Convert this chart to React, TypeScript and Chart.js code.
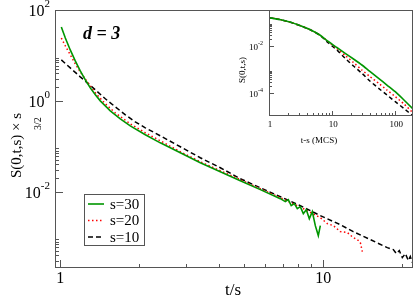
import React, { useEffect, useRef } from "react";
import { Chart, registerables } from "chart.js";
Chart.register(...registerables);

// ---------- main plot data: S(0,t,s) * s^(3/2) versus t/s ----------
const ts30 = [1.009, 1.045, 1.091, 1.14, 1.191, 1.245, 1.3, 1.359, 1.419, 1.549, 1.691, 1.845, 2.105, 2.4, 2.86, 3.406, 4.059, 4.835, 5.762, 6.864, 7.17, 7.36, 7.55, 7.76, 7.963, 8.177, 8.395, 8.618, 8.847, 9.083, 9.325, 9.572, 9.741];
const val30 = [42.3, 24.2, 13.2, 7.57, 4.56, 2.89, 1.93, 1.36, 1.0, 0.603, 0.402, 0.282, 0.179, 0.119, 0.0719, 0.0434, 0.0275, 0.0175, 0.0111, 0.00702, 0.00603, 0.00667, 0.00492, 0.00545, 0.00423, 0.00468, 0.00328, 0.00402, 0.00255, 0.00363, 0.00179, 0.00108, 0.00179];

const ts20 = [1.009, 1.045, 1.091, 1.14, 1.191, 1.267, 1.359, 1.483, 1.618, 1.845, 2.105, 2.4, 2.86, 3.406, 4.059, 4.835, 5.762, 6.864, 8.177, 9.741, 10.36, 10.92, 11.6, 12.34, 13.0, 13.47, 13.83, 14.07];
const val20 = [24.2, 16.2, 10.3, 6.5, 4.34, 2.62, 1.5, 0.859, 0.545, 0.312, 0.198, 0.132, 0.0757, 0.0456, 0.029, 0.0184, 0.0116, 0.00738, 0.00458, 0.00268, 0.00198, 0.00179, 0.00132, 0.00126, 0.000975, 0.000881, 0.000757, 0.00048];

const ts10 = [1.009, 1.091, 1.191, 1.267, 1.359, 1.483, 1.618, 1.768, 1.927, 2.105, 2.4, 2.86, 3.406, 4.059, 4.835, 5.762, 6.864, 8.177, 9.741, 11.6, 13.0, 15.09, 17.51, 18.46, 18.95, 19.45, 19.97, 20.51, 21.05, 21.42, 21.8];
const val10 = [7.96, 5.31, 3.37, 2.49, 1.75, 1.11, 0.738, 0.492, 0.345, 0.255, 0.17, 0.0975, 0.0559, 0.0337, 0.0193, 0.0122, 0.00776, 0.00492, 0.00297, 0.00188, 0.00132, 0.000881, 0.000588, 0.000531, 0.000434, 0.000505, 0.000354, 0.000434, 0.000305, 0.000373, 0.000275];

// ---------- inset data: S(0,t,s) versus t-s (MCS) ----------
const it30 = [1, 1.478, 2.131, 3.071, 4.426, 6.377, 8.77, 11.87, 16.1, 21.78, 29.6, 39.6, 54.5, 73.8, 100, 137.4, 191];
const iv30 = [0.165, 0.138, 0.108, 0.0767, 0.0519, 0.0303, 0.0157, 0.00889, 0.00503, 0.00288, 0.0016, 8.47e-4, 4.35e-4, 2.25e-4, 1.17e-4, 5.19e-5, 2.15e-5];
const it20 = [1, 1.478, 2.131, 3.071, 4.426, 6.377, 8.77, 11.87, 16.1, 21.78, 29.6, 39.6, 54.5, 73.8, 100, 137.4, 183];
const iv20 = [0.165, 0.138, 0.108, 0.0767, 0.0519, 0.0303, 0.0155, 0.00806, 0.00406, 0.00205, 9.8e-4, 5.19e-4, 2.67e-4, 1.38e-4, 7.2e-5, 3.51e-5, 1.65e-5];
const it10 = [1, 1.478, 2.131, 3.071, 4.426, 6.377, 8.77, 11.87, 16.1, 21.78, 29.6, 39.6, 54.5, 73.8, 100, 137.4, 183];
const iv10 = [0.165, 0.138, 0.108, 0.0767, 0.0519, 0.03, 0.0138, 0.00696, 0.00308, 0.00145, 7.1e-4, 3.33e-4, 1.63e-4, 8.47e-5, 4.4e-5, 2.25e-5, 1.19e-5];

const seriesLabels = ["s=30", "s=20", "s=10"];

// tick values
const mainXMajor = [1, 10];
const mainXMinor = [2, 3, 4, 5, 6, 7, 8, 9, 20];
const mainYMajor = [1e-2, 1, 100];
const mainYMajorSup = ["-2", "0", "2"];
const mainYMinor = [3e-4, 4e-4, 5e-4, 6e-4, 7e-4, 8e-4, 9e-4, 2e-2, 3e-2, 4e-2, 5e-2, 6e-2, 7e-2, 8e-2, 9e-2, 2, 3, 4, 5, 6, 7, 8, 9];
const insetXMajor = [1, 10, 100];
const insetXMinor = [2, 3, 4, 5, 6, 7, 8, 9, 20, 30, 40, 50, 60, 70, 80, 90];
const insetYMajor = [1e-2, 1e-4];
const insetYMajorSup = ["-2", "-4"];
const insetYMinor = [2e-2, 3e-2, 4e-2, 5e-2, 6e-2, 7e-2, 8e-2, 9e-2, 2e-4, 3e-4, 4e-4, 5e-4, 6e-4, 7e-4, 8e-4, 9e-4];

const SERIF = '"Liberation Serif", "Times New Roman", serif';
const GRAY = "#555555";
const GREEN = "rgb(0,150,0)";
const RED = "rgb(255,0,0)";
const BLACK = "#000000";

const zip = (xs: number[], ys: number[]) => xs.map((x, i) => ({ x, y: ys[i] }));

function styles(i: number, small: boolean) {
  if (i === 0) return { borderColor: GREEN, borderWidth: 1.6, borderDash: [] as number[] };
  if (i === 1) return { borderColor: RED, borderWidth: 1.5, borderDash: [1.5, 2.5] };
  return { borderColor: BLACK, borderWidth: 1.5, borderDash: small ? [4, 3] : [5, 3] };
}

function supLabel(ctx: CanvasRenderingContext2D, base: string, sup: string, xRight: number, y: number, bf: number, sf: number, rise: number) {
  ctx.font = `${sf}px ${SERIF}`;
  const ws = ctx.measureText(sup).width;
  ctx.font = `${bf}px ${SERIF}`;
  const wb = ctx.measureText(base).width;
  ctx.textAlign = "left";
  ctx.textBaseline = "middle";
  ctx.fillText(base, xRight - ws - wb, y);
  ctx.font = `${sf}px ${SERIF}`;
  ctx.fillText(sup, xRight - ws, y - rise);
}

function drawFrameAndTicks(chart: any, xMaj: number[], xMin: number[], yMaj: number[], yMin: number[], majLen: number, minLen: number) {
  const { ctx, chartArea: a, scales } = chart;
  const xs = scales.x, ys = scales.y;
  ctx.save();
  ctx.strokeStyle = GRAY;
  ctx.lineWidth = 1;
  ctx.setLineDash([]);
  ctx.strokeRect(a.left + 0.5, a.top + 0.5, a.right - a.left - 1, a.bottom - a.top - 1);
  ctx.beginPath();
  const xt = (v: number, len: number) => {
    const p = Math.round(xs.getPixelForValue(v)) + 0.5;
    ctx.moveTo(p, a.bottom);
    ctx.lineTo(p, a.bottom - len);
  };
  const yt = (v: number, len: number) => {
    const p = Math.round(ys.getPixelForValue(v)) + 0.5;
    ctx.moveTo(a.left, p);
    ctx.lineTo(a.left + len, p);
  };
  xMaj.forEach((v) => xt(v, majLen));
  xMin.forEach((v) => xt(v, minLen));
  yMaj.forEach((v) => yt(v, majLen));
  yMin.forEach((v) => yt(v, minLen));
  ctx.stroke();
  ctx.restore();
}

const mainDecor = {
  id: "mainDecor",
  afterDraw(chart: any) {
    const { ctx, scales } = chart;
    drawFrameAndTicks(chart, mainXMajor, mainXMinor, mainYMajor, mainYMinor, 8, 4);
    ctx.save();
    ctx.fillStyle = "#000";
    // x tick labels
    ctx.font = `16px ${SERIF}`;
    ctx.textAlign = "center";
    ctx.textBaseline = "middle";
    mainXMajor.forEach((v) => ctx.fillText(String(v), scales.x.getPixelForValue(v), 279));
    // y tick labels
    mainYMajor.forEach((v, i) => {
      const p = scales.y.getPixelForValue(v);
      supLabel(ctx, "10", mainYMajorSup[i], 50, p + 2, 16, 11, 8);
    });
    // x title
    ctx.font = `17px ${SERIF}`;
    ctx.textAlign = "center";
    ctx.fillText("t/s", 233, 291);
    // y title
    ctx.save();
    ctx.translate(17, 0);
    ctx.rotate(-Math.PI / 2);
    ctx.font = `15px ${SERIF}`;
    ctx.textAlign = "left";
    ctx.textBaseline = "middle";
    ctx.fillText("S(0,t,s) \u00d7 s", -178, 0);
    ctx.font = `10px ${SERIF}`;
    ctx.fillText("3/2", -130, 21);
    ctx.restore();
    // d = 3
    ctx.font = `bold italic 18px ${SERIF}`;
    ctx.textAlign = "left";
    ctx.fillText("d = 3", 83, 34);
    // legend
    ctx.strokeStyle = GRAY;
    ctx.lineWidth = 1;
    ctx.strokeRect(84.5, 194.5, 60, 51);
    const rows = [204, 220.5, 237];
    chart.data.datasets.forEach((ds: any, i: number) => {
      ctx.save();
      ctx.strokeStyle = ds.borderColor;
      ctx.lineWidth = ds.borderWidth;
      ctx.setLineDash(ds.borderDash || []);
      ctx.beginPath();
      ctx.moveTo(88, rows[i]);
      ctx.lineTo(104, rows[i]);
      ctx.stroke();
      ctx.restore();
      ctx.font = `15px ${SERIF}`;
      ctx.fillStyle = "#000";
      ctx.textAlign = "left";
      ctx.textBaseline = "middle";
      ctx.fillText(ds.label, 110, rows[i] + 1);
    });
    ctx.restore();
  },
};

const insetDecor = {
  id: "insetDecor",
  afterDraw(chart: any) {
    const { ctx, scales } = chart;
    drawFrameAndTicks(chart, insetXMajor, insetXMinor, insetYMajor, insetYMinor, 5, 3);
    ctx.save();
    ctx.fillStyle = "#000";
    ctx.font = `9px ${SERIF}`;
    ctx.textAlign = "center";
    ctx.textBaseline = "middle";
    insetXMajor.forEach((v) => ctx.fillText(String(v), scales.x.getPixelForValue(v) + 1, 125));
    ctx.fillText("t-s (MCS)", 94, 141);
    insetYMajor.forEach((v, i) => {
      const p = scales.y.getPixelForValue(v);
      supLabel(ctx, "10", insetYMajorSup[i], 38, p + 1, 9, 6, 4);
    });
    ctx.save();
    ctx.translate(18, 70);
    ctx.rotate(-Math.PI / 2);
    ctx.font = `9px ${SERIF}`;
    ctx.textAlign = "center";
    ctx.textBaseline = "middle";
    ctx.fillText("S(0,t,s)", 0, 0);
    ctx.restore();
    ctx.restore();
  },
};

export default function App() {
  const mainRef = useRef<HTMLCanvasElement>(null);
  const insetRef = useRef<HTMLCanvasElement>(null);

  useEffect(() => {
    const mainData = [zip(ts30, val30), zip(ts20, val20), zip(ts10, val10)];
    const insetData = [zip(it30, iv30), zip(it20, iv20), zip(it10, iv10)];
    const main = new Chart(mainRef.current as HTMLCanvasElement, {
      type: "line",
      data: {
        datasets: mainData.map((d, i) => ({
          label: seriesLabels[i],
          data: d,
          ...styles(i, false),
          pointRadius: 0,
          fill: false,
          tension: 0,
        })),
      },
      options: {
        animation: false,
        responsive: false,
        layout: { padding: { left: 55, top: 10, right: 2, bottom: 32 } },
        scales: {
          x: { type: "logarithmic", min: 0.9546, max: 21.93, display: false },
          y: { type: "logarithmic", min: 2.09e-4, max: 100, display: false },
        },
        plugins: { legend: { display: false }, tooltip: { enabled: false } },
      },
      plugins: [mainDecor],
    } as any);
    const inset = new Chart(insetRef.current as HTMLCanvasElement, {
      type: "line",
      data: {
        datasets: insetData.map((d, i) => ({
          label: seriesLabels[i],
          data: d,
          ...styles(i, true),
          pointRadius: 0,
          fill: false,
          tension: 0.2,
        })),
      },
      options: {
        animation: false,
        responsive: false,
        layout: { padding: { left: 44, top: 10, right: 2, bottom: 34 } },
        scales: {
          x: { type: "logarithmic", min: 1, max: 191, display: false },
          y: { type: "logarithmic", min: 1.08e-5, max: 0.351, display: false },
        },
        plugins: { legend: { display: false }, tooltip: { enabled: false } },
      },
      plugins: [insetDecor],
    } as any);
    return () => {
      main.destroy();
      inset.destroy();
    };
  }, []);

  return (
    <div style={{ position: "absolute", left: 0, top: 0, width: 415, height: 300, background: "#ffffff" }}>
      <canvas ref={mainRef} width={415} height={300} style={{ position: "absolute", left: 0, top: 0 }} />
      <canvas ref={insetRef} width={190} height={150} style={{ position: "absolute", left: 225, top: 0 }} />
    </div>
  );
}
